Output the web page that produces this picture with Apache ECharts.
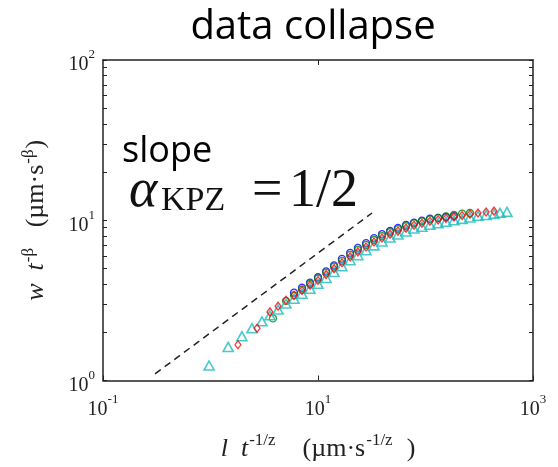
<!DOCTYPE html>
<html>
<head>
<meta charset="utf-8">
<script src="https://cdn.jsdelivr.net/npm/echarts@6/dist/echarts.min.js"></script>
<style>
  html, body { margin: 0; padding: 0; background: #fff; }
  #chart { width: 558px; height: 467px; }
</style>
</head>
<body>
<div id="chart"></div>
<script>
// scaled data (x = l t^-1/z, y = w t^-beta)
var cyanX = [0.97, 1.46, 1.96, 2.43, 3.01, 3.57, 4.25, 5.04, 5.98, 7.10, 8.43, 10.0, 11.9, 14.1, 16.7, 19.9, 23.5, 28.0, 33.2, 39.4, 46.8, 55.5, 65.9, 78.2, 92.7, 110, 131, 155, 184, 219, 259, 308, 366, 434, 493, 573];
var cyanY = [1.24, 1.62, 1.89, 2.12, 2.34, 2.55, 2.77, 3.02, 3.24, 3.48, 3.74, 4.01, 4.36, 4.75, 5.17, 5.63, 6.05, 6.49, 6.97, 7.38, 7.80, 8.15, 8.50, 8.87, 9.12, 9.38, 9.58, 9.79, 10.0, 10.2, 10.4, 10.66, 10.8, 10.96, 11.12, 11.28];

var redX = [1.80, 2.71, 3.57, 4.25, 5.04, 5.98, 7.10, 8.43, 10.0, 11.9, 14.1, 16.7, 19.9, 23.5, 28.0, 33.2, 39.4, 46.8, 55.5, 65.9, 78.2, 92.7, 110, 131, 155, 184, 219, 259, 308, 366, 434];
var redY = [1.67, 2.12, 2.68, 2.91, 3.17, 3.40, 3.65, 3.93, 4.21, 4.58, 4.99, 5.43, 5.91, 6.35, 6.81, 7.32, 7.75, 8.19, 8.56, 8.93, 9.31, 9.58, 9.85, 10.06, 10.28, 10.5, 10.7, 10.9, 11.1, 11.25, 11.4];

var greenX = [3.81, 5.04, 5.98, 7.10, 8.43, 10.0, 11.9, 14.1, 16.7, 19.9, 23.5, 28.0, 33.2, 39.4, 46.8, 55.5, 65.9, 78.2, 92.7, 110, 131, 155, 184, 219, 259];
var greenY = [2.44, 3.14, 3.40, 3.69, 4.00, 4.33, 4.71, 5.13, 5.58, 6.08, 6.53, 7.01, 7.53, 7.97, 8.42, 8.80, 9.18, 9.58, 9.85, 10.13, 10.35, 10.57, 10.8, 11.0, 11.1];

var blueX = [5.98, 7.10, 8.43, 10.0, 11.9, 14.1, 16.7, 19.9, 23.5, 28.0, 33.2, 39.4, 46.8, 55.5, 65.9, 78.2, 92.7, 110, 131, 155, 184];
var blueY = [3.53, 3.79, 4.08, 4.41, 4.80, 5.23, 5.74, 6.25, 6.72, 7.20, 7.74, 8.19, 8.58, 8.97, 9.35, 9.67, 9.94, 10.22, 10.35, 10.48, 10.6];

// guide line of slope 1/2
var slopeX = [0.305, 31.8];
var slopeY = [1.10, 11.1];

var xLabelValues = [0.1, 10, 1000];
var yLabelValues = [1, 10, 100];
var yTickValues = [1, 2, 3, 4, 5, 6, 7, 8, 9, 10, 20, 30, 40, 50, 60, 70, 80, 90, 100];

function zip(xs, ys) {
  return xs.map(function (x, i) { return [x, ys[i]]; });
}

var serif = 'Liberation Serif';
var ink = '#222';
var frame = { show: true, lineStyle: { color: ink, width: 1.5 } };

function powLabel(v) {
  return '{b|10}{s|' + Math.round(Math.log10(v)) + '}';
}
var labelRich = {
  b: { fontFamily: serif, fontSize: 20, color: ink, padding: [10, 0, 0, 0] },
  s: { fontFamily: serif, fontSize: 13, color: ink, padding: [0, 0, 10, 0] }
};
var nameRich = {
  i: { fontFamily: serif, fontStyle: 'italic', fontSize: 26, color: ink },
  n: { fontFamily: serif, fontSize: 26, color: ink },
  s: { fontFamily: serif, fontSize: 17, color: ink, padding: [0, 1, 16, 1] }
};

var chart = echarts.init(document.getElementById('chart'));

var option = {
  animation: false,
  backgroundColor: '#fff',
  grid: { left: 103, right: 25, top: 60, bottom: 82 },
  xAxis: [{
    type: 'log', logBase: 10, min: 0.1, max: 1000,
    splitLine: { show: false },
    axisLine: frame,
    axisTick: { inside: true, length: 5, customValues: xLabelValues, lineStyle: { color: ink } },
    axisLabel: { customValues: xLabelValues, formatter: powLabel, rich: labelRich, margin: 9 },
    name: '{i|l  t}{s|-1/z}{n|    (µm·s}{s|-1/z}{n|  )}',
    nameLocation: 'middle', nameGap: 52,
    nameTextStyle: { rich: nameRich }
  }, {
    type: 'log', logBase: 10, min: 0.1, max: 1000, position: 'top',
    splitLine: { show: false },
    axisLine: frame,
    axisTick: { inside: true, length: 5, customValues: [10], lineStyle: { color: ink } },
    axisLabel: { show: false }
  }],
  yAxis: [{
    type: 'log', logBase: 10, min: 1, max: 100,
    splitLine: { show: false },
    axisLine: frame,
    axisTick: { inside: true, length: 4, customValues: yTickValues, lineStyle: { color: ink } },
    axisLabel: { customValues: yLabelValues, formatter: powLabel, rich: labelRich, margin: 8 },
    name: '{i|w  t}{s|-β}{n|   (µm·s}{s|-β}{n|)}',
    nameLocation: 'middle', nameGap: 50,
    nameTextStyle: { rich: nameRich }
  }, {
    type: 'log', logBase: 10, min: 1, max: 100, position: 'right',
    splitLine: { show: false },
    axisLine: frame,
    axisTick: { inside: true, length: 4, customValues: yTickValues, lineStyle: { color: ink } },
    axisLabel: { show: false }
  }],
  graphic: [
    { type: 'text', x: 313, y: 28, style: { text: 'data collapse', font: '40px "Open Sans"', fill: '#000', align: 'center', verticalAlign: 'middle' } },
    { type: 'text', x: 122, y: 152, style: { text: 'slope', font: '36px "Open Sans"', fill: '#000', verticalAlign: 'middle' } },
    { type: 'text', x: 129, y: 192, style: { text: 'α', font: 'italic 54px "Liberation Serif"', fill: '#111', verticalAlign: 'middle' } },
    { type: 'text', x: 161, y: 201, style: { text: 'KPZ', font: '34px "Liberation Serif"', fill: '#111', verticalAlign: 'middle' } },
    { type: 'text', x: 252, y: 192, style: { text: '=', font: '54px "Liberation Serif"', fill: '#111', verticalAlign: 'middle' } },
    { type: 'text', x: 289, y: 192, style: { text: '1/2', font: '54px "Liberation Serif"', fill: '#111', verticalAlign: 'middle' } }
  ],
  series: [{
    type: 'line', data: zip(slopeX, slopeY), showSymbol: false, symbol: 'none',
    lineStyle: { color: ink, width: 1.5, type: [7, 5] }, z: 1
  }, {
    type: 'scatter', data: zip(blueX, blueY), symbol: 'circle', symbolSize: 7,
    itemStyle: { color: 'rgba(0,0,0,0)', borderColor: '#0000ff', borderWidth: 1.3 }
  }, {
    type: 'scatter', data: zip(greenX, greenY), symbol: 'circle', symbolSize: 7,
    itemStyle: { color: 'rgba(0,0,0,0)', borderColor: '#008000', borderWidth: 1.3 }
  }, {
    type: 'scatter', data: zip(cyanX, cyanY), symbol: 'triangle', symbolSize: [10, 9],
    itemStyle: { color: 'rgba(0,0,0,0)', borderColor: '#1cbcbc', borderWidth: 1.6 }
  }, {
    type: 'scatter', data: zip(redX, redY), symbol: 'diamond', symbolSize: [6, 8],
    itemStyle: { color: 'rgba(0,0,0,0)', borderColor: '#ff0000', borderWidth: 1.3 }
  }]
};

chart.setOption(option);
</script>
</body>
</html>
